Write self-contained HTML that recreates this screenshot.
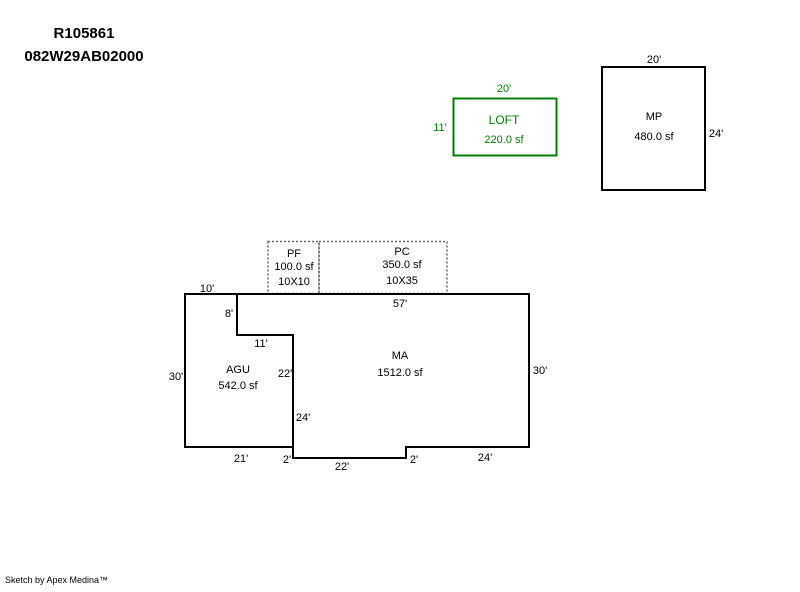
<!DOCTYPE html>
<html><head><style>
body{margin:0;background:#fff;width:800px;height:587px;overflow:hidden}
svg text{font-family:"Liberation Sans",Arial,sans-serif;font-size:11px}
</style></head><body>
<svg width="800" height="587" xmlns="http://www.w3.org/2000/svg">
<text x="84" y="38" text-anchor="middle" style="font-size:15px;font-weight:bold">R105861</text>
<text x="84" y="61" text-anchor="middle" style="font-size:15px;font-weight:bold">082W29AB02000</text>
<rect x="453.5" y="98.5" width="103" height="57" fill="none" stroke="#008000" stroke-width="2"/>
<g fill="#008000"><text x="504" y="92" text-anchor="middle">20'</text>
<text x="440" y="131" text-anchor="middle">11'</text>
<text x="504" y="124" text-anchor="middle" style="font-size:12px">LOFT</text>
<text x="504" y="143" text-anchor="middle">220.0 sf</text></g>
<rect x="602" y="67" width="103" height="123" fill="none" stroke="#000" stroke-width="2"/>
<text x="654" y="63" text-anchor="middle">20'</text>
<text x="716" y="137" text-anchor="middle">24'</text>
<text x="654" y="120" text-anchor="middle">MP</text>
<text x="654" y="140" text-anchor="middle">480.0 sf</text>
<g fill="none" stroke="#666" stroke-width="1.5" stroke-dasharray="2,2">
<rect x="268" y="241.5" width="51" height="52"/>
<rect x="319" y="241.5" width="128" height="52"/></g>
<path d="M185 294H529V447H406V458H293V447H185Z M237 294V335H293V447" fill="none" stroke="#000" stroke-width="2"/>
<text x="294" y="257" text-anchor="middle">PF</text>
<text x="294" y="270" text-anchor="middle">100.0 sf</text>
<text x="294" y="285" text-anchor="middle">10X10</text>
<text x="402" y="255" text-anchor="middle">PC</text>
<text x="402" y="268" text-anchor="middle">350.0 sf</text>
<text x="402" y="284" text-anchor="middle">10X35</text>
<text x="207" y="292" text-anchor="middle">10'</text>
<text x="400" y="307" text-anchor="middle">57'</text>
<text x="229" y="317" text-anchor="middle">8'</text>
<text x="261" y="347" text-anchor="middle">11'</text>
<text x="176" y="380" text-anchor="middle">30'</text>
<text x="540" y="374" text-anchor="middle">30'</text>
<text x="238" y="373" text-anchor="middle">AGU</text>
<text x="238" y="389" text-anchor="middle">542.0 sf</text>
<text x="285" y="377" text-anchor="middle">22'</text>
<text x="400" y="359" text-anchor="middle">MA</text>
<text x="400" y="376" text-anchor="middle">1512.0 sf</text>
<text x="303" y="421" text-anchor="middle">24'</text>
<text x="241" y="462" text-anchor="middle">21'</text>
<text x="287" y="463" text-anchor="middle">2'</text>
<text x="342" y="470" text-anchor="middle">22'</text>
<text x="414" y="463" text-anchor="middle">2'</text>
<text x="485" y="461" text-anchor="middle">24'</text>
<text x="5" y="583" style="font-size:9px">Sketch by Apex Medina™</text>
</svg>
</body></html>
